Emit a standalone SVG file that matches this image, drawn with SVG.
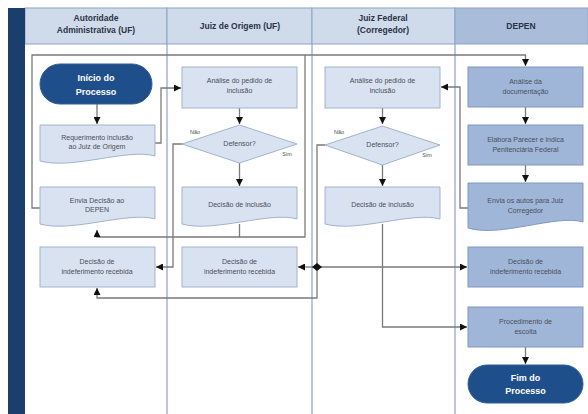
<svg xmlns="http://www.w3.org/2000/svg" width="588" height="414" viewBox="0 0 588 414">
<defs>
<style>
.hdr{font-family:"Liberation Sans",Arial,sans-serif;font-size:8.5px;font-weight:bold;fill:#2b3445;text-anchor:middle}
.t{font-family:"Liberation Sans",Arial,sans-serif;font-size:7px;fill:#4a4f5a;text-anchor:middle}
.tw{font-family:"Liberation Sans",Arial,sans-serif;font-size:9px;font-weight:bold;fill:#ffffff;text-anchor:middle}
.lbl{font-family:"Liberation Sans",Arial,sans-serif;font-size:5.5px;fill:#4a4f5a;text-anchor:middle}
.box{fill:#d9e2f0;stroke:#a3b3ca;stroke-width:1}
.dbox{fill:#9fb6d9;stroke:#8098bf;stroke-width:1}
.term{fill:#1f4f8a;stroke:#2c5f99;stroke-width:1}
.div{stroke:#8ea3c2;stroke-width:1.2;fill:none}
.c{fill:none;stroke:#7a7a7a;stroke-width:1.3}
</style>
<marker id="ah" viewBox="0 0 10 10" refX="10" refY="5" markerWidth="7" markerHeight="7" orient="auto" markerUnits="userSpaceOnUse">
<path d="M0,0 L10,5 L0,10 Z" fill="#111"/>
</marker>
<marker id="jd" viewBox="0 0 10 10" refX="5" refY="5" markerWidth="8" markerHeight="8" orient="auto" markerUnits="userSpaceOnUse">
<path d="M0,5 L5,1 L10,5 L5,9 Z" fill="#111"/>
</marker>
</defs>
<rect x="0" y="0" width="588" height="414" fill="#ffffff"/>
<g id="lanes">
<rect x="25" y="8" width="142" height="36" fill="#cfdaeb" stroke="#8ea3c2"/>
<rect x="167" y="8" width="145" height="36" fill="#cfdaeb" stroke="#8ea3c2"/>
<rect x="312" y="8" width="143" height="36" fill="#cfdaeb" stroke="#8ea3c2"/>
<rect x="455" y="8" width="133" height="36" fill="#a9bddb" stroke="#8ea3c2"/>
<rect x="8" y="8" width="17" height="406" fill="#1b3f6d"/>
<line class="div" x1="167" y1="44" x2="167" y2="414"/>
<line class="div" x1="312" y1="44" x2="312" y2="414"/>
<line class="div" x1="455" y1="44" x2="455" y2="414"/>
<text class="hdr" x="96" y="21">Autoridade</text>
<text class="hdr" x="96" y="33">Administrativa (UF)</text>
<text class="hdr" x="240" y="29">Juiz de Origem (UF)</text>
<text class="hdr" x="383" y="21">Juiz Federal</text>
<text class="hdr" x="383" y="33">(Corregedor)</text>
<text class="hdr" x="521" y="29">DEPEN</text>
</g>
<g id="connectors">
<path class="c" d="M97,104 V124" marker-end="url(#ah)"/>
<path class="c" d="M155,143 H161 V88 H181" marker-end="url(#ah)"/>
<path class="c" d="M239.5,108 V124" marker-end="url(#ah)"/>
<path class="c" d="M239.5,163 V186" marker-end="url(#ah)"/>
<path class="c" d="M182,144 H173 V267 H156" marker-end="url(#ah)"/>
<path class="c" d="M239.5,224 V237 H97 V230" marker-end="url(#ah)"/>
<path class="c" d="M239.5,237 H305 V55"/>
<path class="c" d="M40,208 H32 V55 H525.5 V66" marker-end="url(#ah)"/>
<path class="c" d="M382.5,108 V124" marker-end="url(#ah)"/>
<path class="c" d="M382.5,165 V186" marker-end="url(#ah)"/>
<path class="c" d="M325,145 H317 V298 H97 V288" marker-end="url(#ah)"/>
<path class="c" d="M317,267 H298" marker-end="url(#ah)"/>
<path class="c" d="M317,267 H467" marker-end="url(#ah)"/>
<path d="M312,267 L317,263 L322,267 L317,271 Z" fill="#111"/>
<path class="c" d="M382.5,224 V327 H467" marker-end="url(#ah)"/>
<path class="c" d="M468,208 H460 V87 H441" marker-end="url(#ah)"/>
<path class="c" d="M525.5,107 V124" marker-end="url(#ah)"/>
<path class="c" d="M525.5,165 V182" marker-end="url(#ah)"/>
<path class="c" d="M525.5,347 V364" marker-end="url(#ah)"/>
</g>
<g id="inicio">
<rect class="term" x="40" y="64" width="112" height="40" rx="20"/>
<text class="tw" x="96" y="81">Início do</text>
<text class="tw" x="96" y="95">Processo</text>
</g>
<g id="requerimento">
<path class="box" d="M40,125 H155 V156 C128,148 72,170 40,161 Z"/>
<text class="t" x="97" y="140">Requerimento inclusão</text>
<text class="t" x="97" y="149">ao Juiz de Origem</text>
</g>
<g id="envia-decisao">
<path class="box" d="M40,187 H155 V219 C128,211 72,233 40,224 Z"/>
<text class="t" x="97" y="203">Envia Decisão ao</text>
<text class="t" x="97" y="212">DEPEN</text>
</g>
<g id="indef-1">
<rect class="box" x="40" y="247" width="115" height="40"/>
<text class="t" x="97" y="264">Decisão de</text>
<text class="t" x="97" y="274">indeferimento  recebida</text>
</g>
<g id="analise-2">
<rect class="box" x="182" y="67" width="115" height="41"/>
<text class="t" x="239.5" y="83">Análise do pedido de</text>
<text class="t" x="239.5" y="93">inclusão</text>
</g>
<g id="defensor-2">
<path class="box" d="M182,144 L239.5,125 L297,144 L239.5,163 Z"/>
<text class="t" x="239.5" y="146">Defensor?</text>
<text class="lbl" x="195" y="134">Não</text>
<text class="lbl" x="287" y="156">Sim</text>
</g>
<g id="inclusao-2">
<path class="box" d="M182,187 H297 V219 C270,211 214,233 182,224 Z"/>
<text class="t" x="239.5" y="207">Decisão de inclusão</text>
</g>
<g id="indef-2">
<rect class="box" x="182" y="247" width="115" height="40"/>
<text class="t" x="239.5" y="264">Decisão de</text>
<text class="t" x="239.5" y="274">indeferimento  recebida</text>
</g>
<g id="analise-3">
<rect class="box" x="325" y="67" width="115" height="41"/>
<text class="t" x="382.5" y="83">Análise do pedido de</text>
<text class="t" x="382.5" y="93">inclusão</text>
</g>
<g id="defensor-3">
<path class="box" d="M325,145 L382.5,126 L440,145 L382.5,165 Z"/>
<text class="t" x="382.5" y="147">Defensor?</text>
<text class="lbl" x="339" y="134">Não</text>
<text class="lbl" x="427" y="157">Sim</text>
</g>
<g id="inclusao-3">
<path class="box" d="M325,187 H440 V219 C413,211 357,233 325,224 Z"/>
<text class="t" x="382.5" y="207">Decisão de inclusão</text>
</g>
<g id="analise-doc">
<rect class="dbox" x="468" y="67" width="115" height="40"/>
<text class="t" x="525.5" y="84">Análise da</text>
<text class="t" x="525.5" y="94">documentação</text>
</g>
<g id="elabora">
<rect class="dbox" x="468" y="125" width="115" height="40"/>
<text class="t" x="525.5" y="142">Elabora Parecer e indica</text>
<text class="t" x="525.5" y="152">Penitenciária Federal</text>
</g>
<g id="envia-autos">
<path class="dbox" d="M468,183 H583 V222 C556,214 500,238 468,228 Z"/>
<text class="t" x="525.5" y="203">Envia os autos para Juiz</text>
<text class="t" x="525.5" y="213">Corregedor</text>
</g>
<g id="indef-4">
<rect class="dbox" x="468" y="247" width="115" height="40"/>
<text class="t" x="525.5" y="264">Decisão de</text>
<text class="t" x="525.5" y="274">indeferimento recebida</text>
</g>
<g id="escolta">
<rect class="dbox" x="468" y="307" width="115" height="40"/>
<text class="t" x="525.5" y="324">Procedimento de</text>
<text class="t" x="525.5" y="334">escolta</text>
</g>
<g id="fim">
<rect class="term" x="468" y="365" width="115" height="38" rx="19"/>
<text class="tw" x="525.5" y="381">Fim do</text>
<text class="tw" x="525.5" y="394">Processo</text>
</g>
</svg>
